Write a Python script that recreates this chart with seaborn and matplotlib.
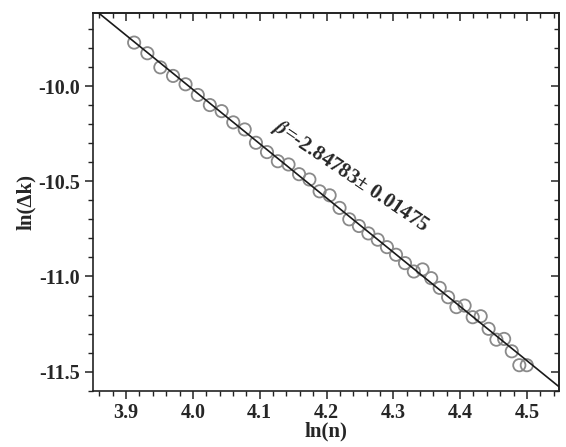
import numpy as np
import pandas as pd
import matplotlib
matplotlib.use("Agg")
import matplotlib.pyplot as plt
import seaborn as sns
from matplotlib.ticker import MultipleLocator


# n from 50 to 90, plotted as ln(n)
n_values = [50, 51, 52, 53, 54, 55, 56, 57, 58, 59, 60, 61, 62, 63, 64, 65, 66,
            67, 68, 69, 70, 71, 72, 73, 74, 75, 76, 77, 78, 79, 80, 81, 82, 83,
            84, 85, 86, 87, 88, 89, 90]
ln_dk = [-9.772, -9.828, -9.902, -9.947, -9.991, -10.047, -10.100, -10.132,
         -10.191, -10.228, -10.298, -10.347, -10.395, -10.412, -10.463, -10.491,
         -10.553, -10.574, -10.640, -10.700, -10.735, -10.774, -10.807, -10.846,
         -10.886, -10.930, -10.974, -10.963, -11.009, -11.060, -11.109, -11.161,
         -11.153, -11.214, -11.209, -11.275, -11.332, -11.328, -11.393, -11.466,
         -11.466]

# linear fit reported on the figure
beta = -2.84783
beta_err = 0.01475
intercept = 1.373

XLIM = (3.85, 4.548)
YLIM = (-11.6, -9.615)

sns.set_theme(style="ticks")
plt.rcParams["font.family"] = ["Liberation Serif", "DejaVu Serif"]
plt.rcParams["font.weight"] = "bold"
plt.rcParams["axes.labelweight"] = "bold"
plt.rcParams["mathtext.fontset"] = "stix"
plt.rcParams["axes.unicode_minus"] = False

df = pd.DataFrame({"x": np.log(n_values), "y": ln_dk})

fig = plt.figure(figsize=(5.66, 4.47), dpi=100)
ax = fig.add_axes([0.1638, 0.1259, 0.8238, 0.8457])

sns.scatterplot(data=df, x="x", y="y", ax=ax, marker="o", s=78,
                facecolor="none", edgecolor="#8a8a8a", linewidth=1.3, zorder=2)

fit_x = np.linspace(XLIM[0] - 0.01, XLIM[1] + 0.01, 50)
fit = pd.DataFrame({"x": fit_x, "y": intercept + beta * fit_x})
sns.lineplot(data=fit, x="x", y="y", ax=ax, color="#1a1a1a", linewidth=1.2, zorder=3)

ax.set_xlim(*XLIM)
ax.set_ylim(*YLIM)

ax.xaxis.set_major_locator(MultipleLocator(0.1))
ax.xaxis.set_minor_locator(MultipleLocator(0.02))
ax.yaxis.set_major_locator(MultipleLocator(0.5))
ax.yaxis.set_minor_locator(MultipleLocator(0.1))
ax.tick_params(which="major", direction="out", length=6, width=1.1,
               labelsize=14.5, pad=3, color="#222222")
ax.tick_params(which="minor", direction="out", length=3.5, width=1.0, color="#222222")
for lbl in ax.get_xticklabels() + ax.get_yticklabels():
    lbl.set_fontweight("bold")

# mirrored ticks pointing inward on top and right
top = ax.secondary_xaxis("top")
top.xaxis.set_major_locator(MultipleLocator(0.1))
top.xaxis.set_minor_locator(MultipleLocator(0.02))
top.tick_params(which="major", direction="in", length=6, width=1.1, labeltop=False)
top.tick_params(which="minor", direction="in", length=3.5, width=1.0)
right = ax.secondary_yaxis("right")
right.yaxis.set_major_locator(MultipleLocator(0.5))
right.yaxis.set_minor_locator(MultipleLocator(0.1))
right.tick_params(which="major", direction="in", length=6, width=1.1, labelright=False)
right.tick_params(which="minor", direction="in", length=3.5, width=1.0)

for sp in ax.spines.values():
    sp.set_linewidth(1.2)
    sp.set_color("#222222")
top.spines["top"].set_linewidth(1.2)
right.spines["right"].set_linewidth(1.2)

ax.set_xlabel("ln(n)", fontsize=15, fontweight="bold", labelpad=-1)
ax.set_ylabel("ln(Δk)", fontsize=15, fontweight="bold", labelpad=2)

ax.text(4.118, -10.225, r"$\beta$" + "=-2.84783\u00b1 0.01475", fontsize=15,
        fontweight="bold", rotation=-34, rotation_mode="anchor",
        ha="left", va="baseline")

fig.savefig("out.png", dpi=100)
